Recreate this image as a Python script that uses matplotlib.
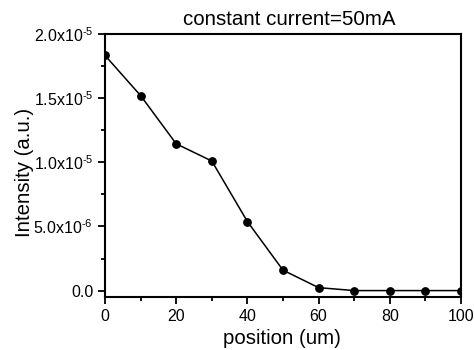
import matplotlib
matplotlib.use("Agg")
import matplotlib.pyplot as plt
from matplotlib.ticker import MultipleLocator

plt.rcParams['font.family'] = ['Liberation Sans', 'DejaVu Sans']
plt.rcParams['mathtext.fontset'] = 'custom'
plt.rcParams['mathtext.rm'] = 'Liberation Sans'
plt.rcParams['mathtext.it'] = 'Liberation Sans'
plt.rcParams['mathtext.bf'] = 'Liberation Sans'

position = [0, 10, 20, 30, 40, 50, 60, 70, 80, 90, 100]
intensity = [1.833e-5, 1.52e-5, 1.144e-5, 1.01e-5, 5.38e-6, 1.59e-6, 2.3e-7, 0.0, 0.0, 0.0, 0.0]

xticks = [0, 20, 40, 60, 80, 100]
yticks = [0.0, 5e-6, 1e-5, 1.5e-5, 2e-5]
ytick_labels = ["0.0", r"5.0x10$^{\text{-}6}$", r"1.0x10$^{\text{-}5}$",
                r"1.5x10$^{\text{-}5}$", r"2.0x10$^{\text{-}5}$"]

fig = plt.figure(figsize=(4.74, 3.5), dpi=100)
ax = fig.add_axes([105/474, 53/350, 356/474, 263/350])

ax.plot(position, intensity, color='black', lw=1.1, marker='o', ms=5.3)

ax.set_xlim(0, 100)
ax.set_ylim(-5e-7, 2.0e-5)
ax.set_xticks(xticks)
ax.set_xticklabels([str(v) for v in xticks])
ax.set_yticks(yticks)
ax.set_yticklabels(ytick_labels)
ax.xaxis.set_minor_locator(MultipleLocator(10))
ax.yaxis.set_minor_locator(MultipleLocator(2.5e-6))

ax.tick_params(which='both', direction='out', top=False, right=False, labelsize=11.5, width=1.3)
ax.tick_params(which='major', length=5)
ax.tick_params(which='minor', length=3)
for s in ax.spines.values():
    s.set_linewidth(1.5)

ax.set_xlabel("position (um)", fontsize=14.7)
ax.set_ylabel("Intensity (a.u.)", fontsize=14.7)
ax.xaxis.set_label_coords(0.497, -0.12)
ax.yaxis.set_label_coords(-0.199, 0.473)
ax.set_title("constant current=50mA", fontsize=14.8, pad=6.5, x=0.517)

fig.savefig("out.png", dpi=100)
